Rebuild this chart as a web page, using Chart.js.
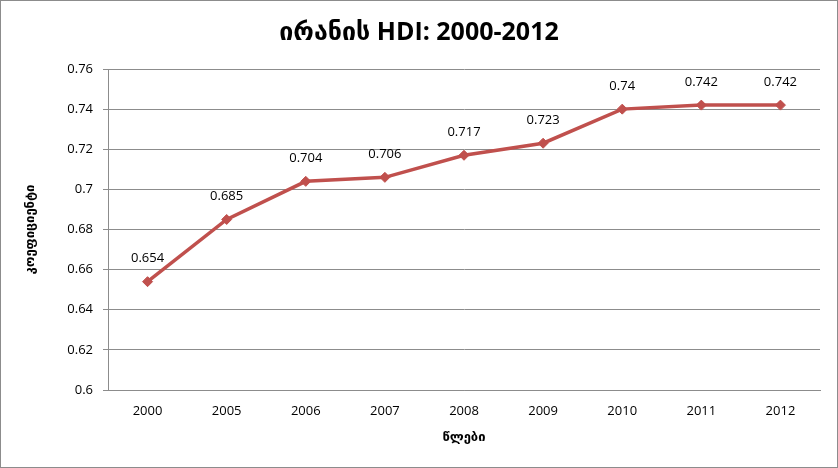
<!DOCTYPE html>
<html>
<head>
  <meta charset="utf-8">
  <title>ირანის HDI</title>
  <script src="https://cdn.jsdelivr.net/npm/chart.js"></script>
  <style>
    body { margin: 0; background: #fff; }
    #wrap { width: 838px; height: 468px; }
  </style>
</head>
<body>
  <div id="wrap"><canvas id="hdiChart" width="838" height="468"></canvas></div>
  <script>
    // chart data
    const years = ['2000', '2005', '2006', '2007', '2008', '2009', '2010', '2011', '2012'];
    const hdiValues = [0.654, 0.685, 0.704, 0.706, 0.717, 0.723, 0.74, 0.742, 0.742];
    const yMin = 0.6;
    const yMax = 0.76;
    const yStep = 0.02;

    const font = "'Open Sans', 'DejaVu Sans', sans-serif";
    const lineColor = '#C0504D';
    const gridColor = '#8c8c8c';

    // white background and thin frame round the whole chart
    const framePlugin = {
      id: 'framePlugin',
      beforeDraw(chart) {
        const ctx = chart.ctx;
        ctx.save();
        ctx.fillStyle = '#fff';
        ctx.fillRect(0, 0, chart.width, chart.height);
        ctx.strokeStyle = '#8c8c8c';
        ctx.lineWidth = 1;
        ctx.strokeRect(0.5, 0.5, chart.width - 1, chart.height - 1);
        ctx.restore();
      }
    };

    // value labels above each point
    const valueLabels = {
      id: 'valueLabels',
      afterDatasetsDraw(chart) {
        const ctx = chart.ctx;
        const meta = chart.getDatasetMeta(0);
        ctx.save();
        ctx.font = '13px ' + font;
        ctx.fillStyle = '#000';
        ctx.textAlign = 'center';
        ctx.textBaseline = 'middle';
        meta.data.forEach((pt, i) => {
          ctx.fillText(String(hdiValues[i]), pt.x, pt.y - 23);
        });
        ctx.restore();
      }
    };

    const chart = new Chart(document.getElementById('hdiChart'), {
      type: 'line',
      data: {
        labels: years,
        datasets: [{
          data: hdiValues,
          borderColor: lineColor,
          backgroundColor: lineColor,
          borderWidth: 3.5,
          pointStyle: 'rectRot',
          pointRadius: 5,
          pointBorderWidth: 1,
          tension: 0,
          fill: false
        }]
      },
      options: {
        responsive: false,
        animation: false,
        layout: { padding: { left: 18, right: 18, top: 0, bottom: 0 } },
        plugins: {
          legend: { display: false },
          tooltip: { enabled: false },
          title: {
            display: true,
            text: 'ირანის HDI: 2000-2012',
            color: '#000',
            font: { family: font, size: 25, weight: 'bold' },
            padding: { top: 18, bottom: 21 }
          }
        },
        scales: {
          x: {
            offset: true,
            grid: { display: false, drawTicks: false },
            border: { display: true, color: gridColor, width: 1 },
            ticks: { color: '#000', font: { family: font, size: 13 }, padding: 13, maxRotation: 0 },
            title: {
              display: true,
              text: 'წლები',
              color: '#000',
              font: { family: font, size: 13, weight: 'bold' },
              padding: { top: 0, bottom: 23 }
            },
            afterFit(scale) { scale.height = 78; }
          },
          y: {
            min: yMin,
            max: yMax,
            grid: { color: gridColor, lineWidth: 1, tickLength: 5 },
            border: { display: true, color: gridColor, width: 1 },
            ticks: {
              stepSize: yStep,
              color: '#000',
              font: { family: font, size: 13 },
              padding: 10,
              callback: v => String(parseFloat(v.toFixed(2)))
            },
            title: {
              display: true,
              text: 'კოეფიციენტი',
              color: '#000',
              font: { family: font, size: 13, weight: 'bold' },
              padding: { top: 4, bottom: 0 }
            },
            afterFit(scale) { scale.width = 90; }
          }
        }
      },
      plugins: [framePlugin, valueLabels]
    });
  </script>
</body>
</html>
